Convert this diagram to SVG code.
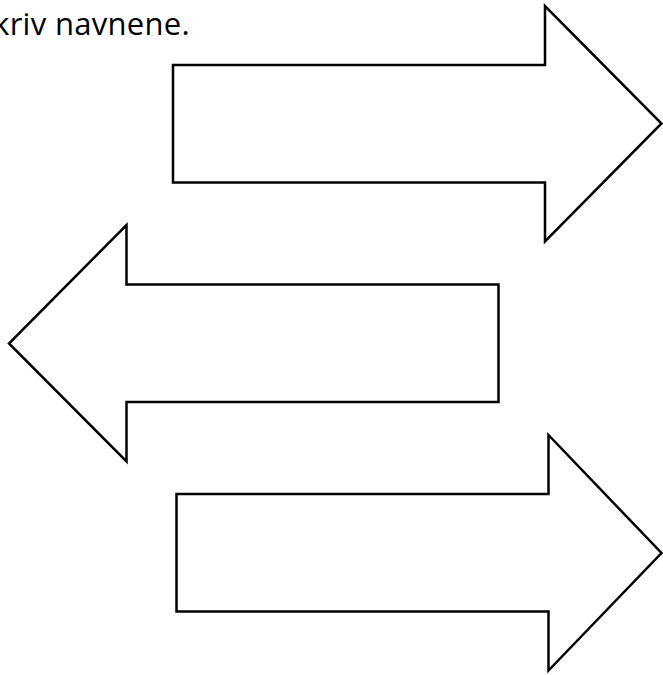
<svg xmlns="http://www.w3.org/2000/svg" width="663" height="675" viewBox="0 0 663 675">
<style>
.arrow{fill:#ffffff;stroke:#000000;stroke-width:2.5;stroke-linejoin:miter}
.label{font-family:"Open Sans","Noto Sans","DejaVu Sans",sans-serif;font-size:31px;fill:#000000}
</style>
<rect width="663" height="675" fill="#ffffff"/>
<g id="title"><text class="label" x="190" y="35" text-anchor="end" letter-spacing="0.3">kriv navnene.</text></g>
<g id="arrow-1"><polygon class="arrow" points="173,65 545,65 545,6 661.5,123.5 545,241.5 545,182.5 173,182.5"/></g>
<g id="arrow-2"><polygon class="arrow" points="498.5,284.5 126.5,284.5 126.5,225 9,343.5 126.5,461.5 126.5,402 498.5,402"/></g>
<g id="arrow-3"><polygon class="arrow" points="176.5,494 548.5,494 548.5,435 661.5,553 548.5,670.5 548.5,611.5 176.5,611.5"/></g>
<g id="connectors"></g>
</svg>
